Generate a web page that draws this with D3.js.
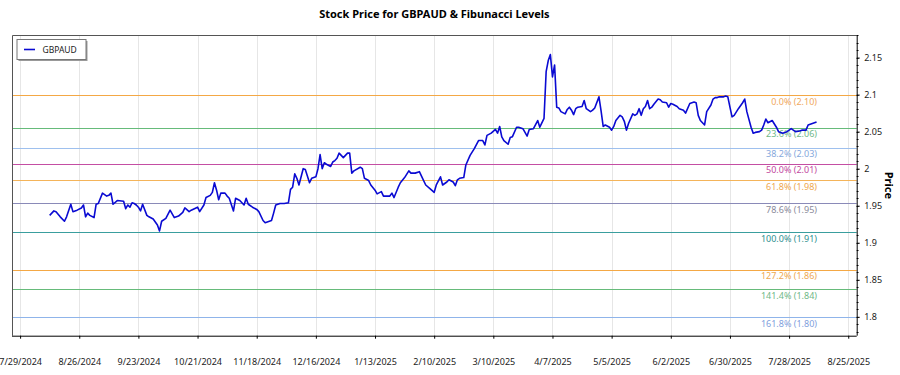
<!DOCTYPE html>
<html>
<head>
<meta charset="utf-8">
<script src="https://cdn.jsdelivr.net/npm/d3@7"></script>
<style>
body { margin: 0; background: #fff; }
svg { font-family: "Noto Sans", sans-serif; }
</style>
</head>
<body>
<svg id="chart" width="900" height="375"></svg>
<script>
var dates = [
  "2024-08-12","2024-08-14","2024-08-15","2024-08-17","2024-08-19","2024-08-20","2024-08-22","2024-08-23","2024-08-25","2024-08-27","2024-08-28","2024-08-29","2024-08-30","2024-08-31",
  "2024-09-02","2024-09-03","2024-09-04","2024-09-06","2024-09-08","2024-09-09","2024-09-10","2024-09-11","2024-09-13","2024-09-16","2024-09-17","2024-09-18","2024-09-19","2024-09-20","2024-09-21","2024-09-22","2024-09-23","2024-09-24","2024-09-25","2024-09-27","2024-09-28","2024-09-30",
  "2024-10-02","2024-10-03","2024-10-04","2024-10-06","2024-10-08","2024-10-10","2024-10-12","2024-10-14","2024-10-15","2024-10-17","2024-10-18","2024-10-21","2024-10-22","2024-10-24","2024-10-25","2024-10-27","2024-10-28","2024-10-29","2024-10-30","2024-10-31",
  "2024-11-01","2024-11-03","2024-11-04","2024-11-05","2024-11-07","2024-11-08","2024-11-10","2024-11-11","2024-11-12","2024-11-13","2024-11-14","2024-11-16","2024-11-18","2024-11-19","2024-11-21","2024-11-22","2024-11-25","2024-11-26","2024-11-27","2024-11-29",
  "2024-12-01","2024-12-03","2024-12-04","2024-12-05","2024-12-06","2024-12-07","2024-12-08","2024-12-10","2024-12-11","2024-12-13","2024-12-14","2024-12-16","2024-12-17","2024-12-18","2024-12-19","2024-12-20","2024-12-21","2024-12-23","2024-12-24","2024-12-25","2024-12-26","2024-12-27","2024-12-28","2024-12-29","2024-12-31",
  "2025-01-01","2025-01-02","2025-01-03","2025-01-06","2025-01-07","2025-01-08","2025-01-10","2025-01-11","2025-01-13","2025-01-14","2025-01-16","2025-01-17","2025-01-19","2025-01-20","2025-01-21","2025-01-22","2025-01-24","2025-01-25","2025-01-27","2025-01-29","2025-01-30",
  "2025-02-01","2025-02-03","2025-02-04","2025-02-06","2025-02-08","2025-02-10","2025-02-11","2025-02-13","2025-02-14","2025-02-16","2025-02-17","2025-02-19","2025-02-20","2025-02-21","2025-02-22","2025-02-24","2025-02-25","2025-02-27",
  "2025-03-01","2025-03-03","2025-03-05","2025-03-06","2025-03-07","2025-03-09","2025-03-11","2025-03-12","2025-03-13","2025-03-14","2025-03-15","2025-03-17","2025-03-18","2025-03-19","2025-03-21","2025-03-22","2025-03-24","2025-03-26","2025-03-27","2025-03-29","2025-03-31",
  "2025-04-01","2025-04-03","2025-04-04","2025-04-05","2025-04-06","2025-04-07","2025-04-08","2025-04-09","2025-04-10","2025-04-11","2025-04-13","2025-04-14","2025-04-15","2025-04-16","2025-04-17","2025-04-18","2025-04-19","2025-04-21","2025-04-22","2025-04-23","2025-04-25","2025-04-26","2025-04-27","2025-04-29","2025-04-30",
  "2025-05-01","2025-05-02","2025-05-04","2025-05-05","2025-05-06","2025-05-07","2025-05-09","2025-05-10","2025-05-11","2025-05-12","2025-05-13","2025-05-15","2025-05-16","2025-05-17","2025-05-18","2025-05-19","2025-05-20","2025-05-21","2025-05-22","2025-05-23","2025-05-24","2025-05-25","2025-05-27","2025-05-28","2025-05-29","2025-05-31",
  "2025-06-01","2025-06-02","2025-06-03","2025-06-05","2025-06-06","2025-06-08","2025-06-09","2025-06-11","2025-06-13","2025-06-14","2025-06-15","2025-06-16","2025-06-18","2025-06-19","2025-06-21","2025-06-22","2025-06-23","2025-06-24","2025-06-25","2025-06-27","2025-06-28","2025-06-29","2025-06-30",
  "2025-07-01","2025-07-02","2025-07-04","2025-07-06","2025-07-07","2025-07-08","2025-07-10","2025-07-11","2025-07-12","2025-07-14","2025-07-15","2025-07-16","2025-07-17","2025-07-18","2025-07-20","2025-07-22","2025-07-23","2025-07-25","2025-07-27","2025-07-29","2025-07-30","2025-07-31",
  "2025-08-02","2025-08-03","2025-08-05","2025-08-06","2025-08-08","2025-08-10"
];

var prices = [
  1.937,1.943,1.942,1.935,1.929,1.935,1.952,1.942,1.944,1.947,1.951,1.935,1.940,1.937,
  1.934,1.952,1.953,1.967,1.963,1.964,1.967,1.952,1.957,1.956,1.946,1.951,1.948,1.954,1.953,1.951,1.948,1.943,1.952,1.937,1.935,1.932,
  1.924,1.916,1.929,1.933,1.944,1.934,1.936,1.941,1.947,1.942,1.944,1.948,1.942,1.951,1.961,1.964,1.968,1.981,1.971,1.958,
  1.967,1.967,1.963,1.960,1.943,1.960,1.957,1.954,1.951,1.960,1.952,1.948,1.945,1.942,1.930,1.927,1.930,1.940,1.951,1.953,
  1.953,1.954,1.972,1.975,1.993,1.987,1.978,2.000,1.999,1.981,1.987,1.989,2.000,2.019,2.000,2.008,2.006,2.003,2.009,2.011,2.014,2.021,2.018,2.015,2.021,
  2.021,1.994,1.997,2.002,2.000,1.987,1.984,1.978,1.971,1.966,1.969,1.963,1.963,1.963,1.967,1.961,1.975,1.981,1.988,1.997,1.994,
  1.994,1.996,1.990,1.978,1.973,1.968,1.978,1.989,1.978,1.982,1.985,1.982,1.977,1.985,1.987,1.988,2.005,2.018,
  2.027,2.038,2.038,2.032,2.045,2.048,2.053,2.048,2.057,2.043,2.038,2.033,2.042,2.043,2.056,2.056,2.054,2.044,2.053,2.054,2.065,
  2.056,2.068,2.131,2.146,2.154,2.124,2.140,2.083,2.082,2.077,2.074,2.080,2.083,2.079,2.073,2.081,2.083,2.084,2.092,2.081,2.077,2.079,2.082,2.097,2.078,
  2.057,2.059,2.056,2.052,2.057,2.065,2.072,2.070,2.064,2.052,2.061,2.074,2.072,2.074,2.081,2.072,2.081,2.084,2.092,2.081,2.083,2.087,2.094,2.093,2.090,2.089,
  2.083,2.088,2.087,2.084,2.081,2.079,2.075,2.088,2.090,2.089,2.072,2.065,2.059,2.077,2.086,2.094,2.096,2.096,2.097,2.097,2.098,2.097,2.083,
  2.070,2.072,2.081,2.089,2.094,2.077,2.056,2.048,2.049,2.050,2.052,2.059,2.067,2.062,2.065,2.056,2.050,2.048,2.050,2.054,2.052,2.050,
  2.051,2.052,2.052,2.059,2.061,2.063
];

var xTickLabels = ["7/29/2024","8/26/2024","9/23/2024","10/21/2024","11/18/2024","12/16/2024","1/13/2025","2/10/2025",
  "3/10/2025","4/7/2025","5/5/2025","6/2/2025","6/30/2025","7/28/2025","8/25/2025"];
var yTicks = [1.8, 1.85, 1.9, 1.95, 2, 2.05, 2.1, 2.15];

var fibRatios = [0, 0.236, 0.382, 0.5, 0.618, 0.786, 1, 1.272, 1.414, 1.618];
var fibHigh = 2.099,
  fibLow = 1.914;
var fibColors = ["#f4a845", "#66bb7a", "#9ec0ee", "#c44ea3", "#f4b45a", "#8a8ab8", "#3a9e9e", "#f4a845", "#66bb7a", "#8fb4ea"];
var fibTextColors = ["#f0a860", "#6fb888", "#86a8dc", "#c24aa0", "#eea850", "#8a8a9a", "#2e8f8f", "#eea850", "#6fb888", "#7fa0dd"];

var plotLeft = 12, plotRight = 856.7, plotTop = 35, plotBottom = 335.7;

var parseDay = d3.utcParse("%Y-%m-%d"),
  parseTick = d3.utcParse("%m/%d/%Y");

var data = dates.map(function(d, i) {
  return { date: parseDay(d), price: prices[i] };
});

var x = d3.scaleUtc()
  .domain([new Date(Date.UTC(2024, 6, 25, 4)), new Date(Date.UTC(2025, 7, 29))])
  .range([plotLeft, plotRight]);

var y = d3.scaleLinear()
  .domain([1.7745, 2.1805])
  .range([plotBottom, plotTop]);

var svg = d3.select("#chart");

svg.append("rect").attr("width", 900).attr("height", 375).attr("fill", "#fff");

var xTicks = xTickLabels.map(function(t) { return parseTick(t); });

// vertical grid
svg.append("g")
  .selectAll("line")
  .data(xTicks)
  .enter().append("line")
  .attr("x1", function(d) { return Math.round(x(d)) + 0.5; })
  .attr("x2", function(d) { return Math.round(x(d)) + 0.5; })
  .attr("y1", plotTop)
  .attr("y2", plotBottom)
  .attr("stroke", "#e6e6e6")
  .attr("stroke-width", 1);

// fibonacci levels
var levels = fibRatios.map(function(r, i) {
  var v = fibHigh - r * (fibHigh - fibLow);
  return { ratio: r, value: v, color: fibColors[i], textColor: fibTextColors[i],
    label: (r * 100).toFixed(1) + "% (" + v.toFixed(2) + ")" };
});

var fib = svg.append("g");

fib.selectAll("line")
  .data(levels)
  .enter().append("line")
  .attr("x1", plotLeft)
  .attr("x2", plotRight)
  .attr("y1", function(d) { return Math.round(y(d.value)) + 0.5; })
  .attr("y2", function(d) { return Math.round(y(d.value)) + 0.5; })
  .attr("stroke", function(d) { return d.color; })
  .attr("stroke-width", 1);

fib.selectAll("text")
  .data(levels)
  .enter().append("text")
  .attr("x", 817)
  .attr("y", function(d) { return y(d.value) + 9.5; })
  .attr("text-anchor", "end")
  .style("font-size", "9px")
  .style("fill", function(d) { return d.textColor; })
  .text(function(d) { return d.label; });

// price line
var line = d3.line()
  .x(function(d) { return x(d.date); })
  .y(function(d) { return y(d.price); });

svg.append("path")
  .datum(data)
  .attr("d", line)
  .attr("fill", "none")
  .attr("stroke", "#0a0ad2")
  .attr("stroke-width", 1.6)
  .attr("stroke-linejoin", "round");

// frame left/top
svg.append("path")
  .attr("d", "M" + (plotLeft + 0.5) + "," + plotBottom + "V" + (plotTop + 0.5) + "H" + plotRight)
  .attr("fill", "none")
  .attr("stroke", "#555")
  .attr("stroke-width", 1);

// x axis
var xAxis = svg.append("g")
  .attr("transform", "translate(0," + plotBottom + ")")
  .call(d3.axisBottom(x)
    .tickValues(xTicks)
    .tickSizeOuter(0)
    .tickSize(3)
    .tickPadding(20)
    .tickFormat(function(d, i) { return xTickLabels[i]; }));

xAxis.selectAll("text").style("font-size", "9px").style("fill", "#222").style("font-family", "Noto Sans");
xAxis.select(".domain").attr("d", "M" + plotLeft + ",0.5H" + plotRight);

// y axis minor ticks
var minor = d3.range(178, 219).map(function(v) { return v / 100; });
svg.append("g")
  .selectAll("line")
  .data(minor)
  .enter().append("line")
  .attr("x1", plotRight)
  .attr("x2", plotRight + 1.8)
  .attr("y1", function(d) { return Math.round(y(d)) + 0.5; })
  .attr("y2", function(d) { return Math.round(y(d)) + 0.5; })
  .attr("stroke", "#000");

var yAxis = svg.append("g")
  .attr("transform", "translate(" + plotRight + ",0)")
  .call(d3.axisRight(y)
    .tickValues(yTicks)
    .tickSize(3)
    .tickSizeOuter(0)
    .tickPadding(4.5)
    .tickFormat(d3.format("")));

yAxis.selectAll("text").style("font-size", "9px").style("fill", "#222").style("font-family", "Noto Sans");
yAxis.select(".domain").attr("d", "M0.5," + plotTop + "V" + plotBottom);

// title
svg.append("text")
  .attr("x", (plotLeft + plotRight) / 2)
  .attr("y", 18)
  .attr("text-anchor", "middle")
  .style("font-size", "11px")
  .style("font-weight", "bold")
  .text("Stock Price for GBPAUD & Fibunacci Levels");

// y label
svg.append("text")
  .attr("transform", "translate(885," + (plotTop + plotBottom) / 2 + ") rotate(90)")
  .attr("text-anchor", "middle")
  .style("font-size", "11px")
  .style("font-weight", "bold")
  .text("Price");

// legend
var legend = svg.append("g").attr("transform", "translate(17,39.5)");
legend.append("rect")
  .attr("x", 1.5).attr("y", 1.5).attr("width", 69).attr("height", 20)
  .attr("fill", "#999");
legend.append("rect")
  .attr("width", 69).attr("height", 20)
  .attr("fill", "#fff").attr("stroke", "#777").attr("stroke-width", 1);
legend.append("line")
  .attr("x1", 7).attr("x2", 18).attr("y1", 10).attr("y2", 10)
  .attr("stroke", "#0a0ad2").attr("stroke-width", 1.6);
legend.append("text")
  .attr("x", 25.5).attr("y", 13)
  .style("font-size", "8.5px")
  .style("fill", "#222")
  .text("GBPAUD");
</script>
</body>
</html>
